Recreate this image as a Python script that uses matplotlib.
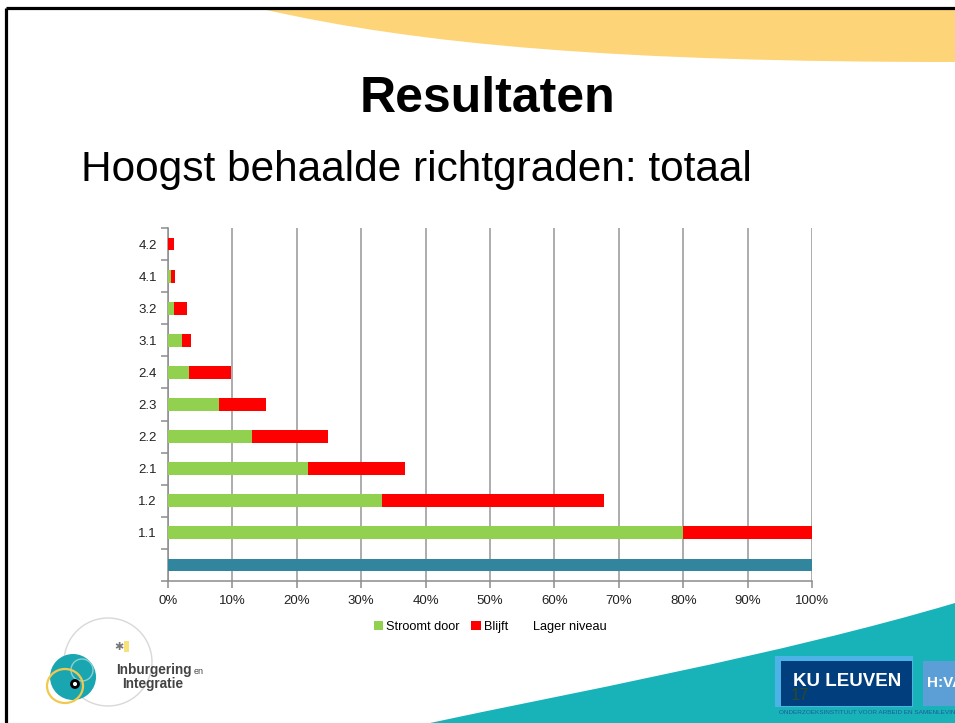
"""Slide 'Resultaten' - hoogst behaalde richtgraden, stacked bar chart."""

import matplotlib
matplotlib.use("Agg")
import matplotlib.pyplot as plt
from matplotlib.patches import Rectangle, PathPatch, Circle, Ellipse
from matplotlib.path import Path
import numpy as np

# data (percentages, bottom -> top)
categories = ["", "1.1", "1.2", "2.1", "2.2", "2.3", "2.4", "3.1", "3.2", "4.1", "4.2"]
stroomt_door = [0, 80.0, 33.2, 21.7, 13.1, 7.9, 3.2, 2.2, 1.0, 0.5, 0.0]
blijft = [0, 20.0, 34.5, 15.1, 11.8, 7.3, 6.6, 1.4, 2.0, 0.6, 1.0]
totaal = [100, 0, 0, 0, 0, 0, 0, 0, 0, 0, 0]
x_ticks = [0, 10, 20, 30, 40, 50, 60, 70, 80, 90, 100]

lager_niveau = [100 - g - r if t == 0 else 0
                for g, r, t in zip(stroomt_door, blijft, totaal)]

GREEN = "#92D050"
RED = "#FF0000"
TEAL_BAR = "#31859C"
YELLOW = "#FDD477"
SWOOSH = "#17B3B8"
FONT = ["Liberation Sans", "DejaVu Sans"]

W, H = 955, 723
fig = plt.figure(figsize=(W / 100, H / 100), dpi=100)
fig.patch.set_facecolor("white")

# ---- slide background (pixel coordinates) ----
bg = fig.add_axes([0, 0, 1, 1], zorder=0)
bg.set_xlim(0, W); bg.set_ylim(H, 0); bg.axis("off")

top = Path([(262, 9), (420, 45), (620, 62), (955, 62), (955, 9), (262, 9)],
           [Path.MOVETO, Path.CURVE4, Path.CURVE4, Path.CURVE4, Path.LINETO, Path.CLOSEPOLY])
bg.add_patch(PathPatch(top, facecolor=YELLOW, edgecolor="none"))
bottom = Path([(430, 723), (560, 695), (780, 655), (955, 603), (955, 723), (430, 723)],
              [Path.MOVETO, Path.CURVE4, Path.CURVE4, Path.CURVE4, Path.LINETO, Path.CLOSEPOLY])
bg.add_patch(PathPatch(bottom, facecolor=SWOOSH, edgecolor="none"))

# slide border (left + top)
bg.plot([5.5, 5.5], [8, H], color="black", lw=2.3, solid_capstyle="butt")
bg.plot([5.5, W], [8, 8], color="black", lw=2.3, solid_capstyle="butt")

bg.text(487, 99, "Resultaten", ha="center", va="center", fontsize=36,
        fontweight="bold", family=FONT, color="black")
bg.text(81, 170, "Hoogst behaalde richtgraden: totaal", ha="left", va="center",
        fontsize=30.5, family=FONT, color="black")

# left logo
bg.add_patch(Circle((108, 662), 44, facecolor="none", edgecolor="#D8D8D8", lw=1))
bg.add_patch(Circle((73, 677), 23, facecolor="#1AA6B0", edgecolor="none"))
bg.add_patch(Circle((82, 670), 11, facecolor="none", edgecolor="#8CCFD3", lw=1))
bg.add_patch(Ellipse((65, 686), 36, 34, facecolor="none", edgecolor="#F2C94C", lw=1.6))
bg.add_patch(Circle((75, 684), 3.5, facecolor="white", edgecolor="black", lw=2))
bg.add_patch(Rectangle((124, 641), 5, 11, facecolor="#F7E27A", edgecolor="none"))
bg.text(119, 647, "\u2731", ha="center", va="center", fontsize=8, color="#777777",
        family=["DejaVu Sans"])
bg.text(116, 670, "Inburgering", ha="left", va="center", fontsize=9.8,
        fontweight="bold", family=FONT, color="#444444")
bg.text(194, 671, "en", ha="left", va="center", fontsize=6.5,
        family=FONT, color="#444444")
bg.text(122, 684, "Integratie", ha="left", va="center", fontsize=9.8,
        fontweight="bold", family=FONT, color="#444444")

# KU Leuven / HIVA logo
bg.add_patch(Rectangle((775, 656), 138, 51, facecolor="#4DB2E6", edgecolor="none"))
bg.add_patch(Rectangle((781, 661), 131, 45, facecolor="#003E7E", edgecolor="none"))
bg.text(847, 682, "KU LEUVEN", ha="center", va="center", fontsize=13.5,
        fontweight="bold", family=FONT, color="white")
bg.add_patch(Rectangle((923, 661), 40, 45, facecolor="#5C9FD6", edgecolor="none"))
bg.text(927, 683, "H:VA", ha="left", va="center", fontsize=11,
        fontweight="bold", family=FONT, color="white", clip_on=True)
bg.text(800, 695, "17", ha="center", va="center", fontsize=12,
        family=FONT, color="#2F4A2A")
bg.text(779, 713, "ONDERZOEKSINSTITUUT VOOR ARBEID EN SAMENLEVING", ha="left",
        va="center", fontsize=4.6, family=FONT, color="#1F5A9A", clip_on=True)

# ---- chart ----
ax = fig.add_axes([168 / W, 1 - 581 / H, 644 / W, 353 / H], zorder=2)
ax.patch.set_alpha(0)
y = np.arange(len(categories))
h = 0.4
ax.barh(y, totaal, height=h, color=TEAL_BAR, zorder=3)
ax.barh(y, stroomt_door, height=h, color=GREEN, label="Stroomt door", zorder=3)
left = np.array(stroomt_door)
ax.barh(y, blijft, left=left, height=h, color=RED, label="Blijft", zorder=3)
left = left + np.array(blijft)
ax.barh(y, lager_niveau, left=left, height=h, color="none", label="Lager niveau", zorder=3)

ax.set_xlim(0, 100)
ax.set_ylim(-0.5, len(categories) - 0.5)
ax.set_xticks(x_ticks)
ax.set_xticklabels([f"{v}%" for v in x_ticks])
ax.set_yticks(y)
ax.set_yticklabels(categories)
ax.set_yticks(np.arange(-0.5, len(categories)), minor=True)
ax.grid(axis="x", color="#9E9E9E", lw=1.2)
ax.set_axisbelow(True)

for s in ("top", "right"):
    ax.spines[s].set_visible(False)
for s in ("left", "bottom"):
    ax.spines[s].set_color("#8C8C8C")
    ax.spines[s].set_linewidth(1.1)
ax.tick_params(axis="y", which="major", length=0, pad=8, labelsize=9.5,
               labelcolor="#222222")
ax.tick_params(axis="y", which="minor", length=5, color="#8C8C8C", width=1.1)
ax.tick_params(axis="x", which="major", length=5, color="#8C8C8C", width=1.1,
               pad=5, labelsize=9.5, labelcolor="#222222")
for lab in ax.get_xticklabels() + ax.get_yticklabels():
    lab.set_family(FONT)

ax.legend(loc="upper center", bbox_to_anchor=(0.5, -0.08), ncol=3, frameon=False,
          prop={"family": FONT, "size": 9.2}, handlelength=0.75, handleheight=0.75,
          handletextpad=0.25, columnspacing=0.9)

fig.savefig("out.png", dpi=100, facecolor="white")
